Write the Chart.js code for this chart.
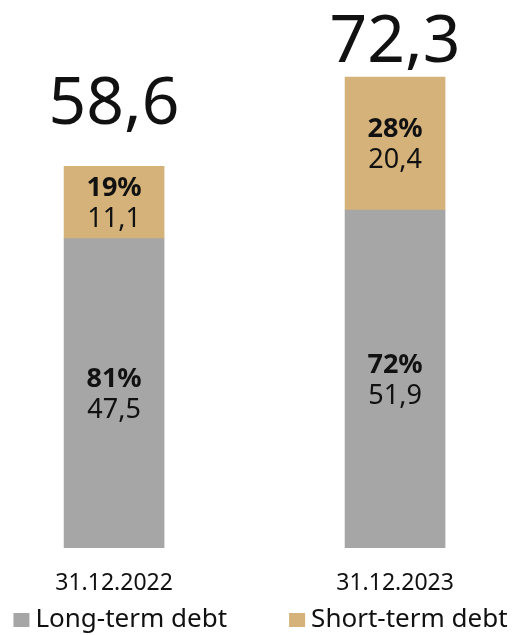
<!DOCTYPE html>
<html>
<head>
    <title>Debt structure</title>
    <script src="https://cdn.jsdelivr.net/npm/chart.js"></script>
    <style>
        html, body {
            margin: 0;
            padding: 0;
            background: #ffffff;
        }
        #wrap {
            width: 517px;
            height: 635px;
        }
    </style>
</head>
<body>
    <div id="wrap"><canvas id="debtChart"></canvas></div>

    <script>
        // Debt at year end, bn
        var dates = ['31.12.2022', '31.12.2023'];
        var longTerm = [47.5, 51.9];
        var shortTerm = [11.1, 20.4];
        var longShare = ['81%', '72%'];
        var shortShare = ['19%', '28%'];
        var totals = [58.6, 72.3];

        var FONT = '"Noto Sans", sans-serif';
        var INK = '#111111';

        function fmt(v) {
            return v.toFixed(1).replace('.', ',');
        }

        // Writes share + value inside each segment, total above each bar
        var barLabels = {
            id: 'barLabels',
            afterDatasetsDraw: function(chart) {
                var ctx = chart.ctx;
                ctx.save();
                ctx.fillStyle = INK;
                ctx.textAlign = 'center';
                ctx.textBaseline = 'alphabetic';

                var shares = [longShare, shortShare];
                chart.data.datasets.forEach(function(ds, di) {
                    var meta = chart.getDatasetMeta(di);
                    meta.data.forEach(function(bar, i) {
                        var mid = (bar.y + bar.base) / 2;
                        ctx.font = 'bold 27px ' + FONT;
                        ctx.fillText(shares[di][i], bar.x, mid - 6.5);
                        ctx.font = '27px ' + FONT;
                        ctx.fillText(fmt(ds.data[i].y), bar.x, mid + 24.5);
                    });
                });

                // totals sit above the stack, kept inside the canvas
                var top = chart.getDatasetMeta(chart.data.datasets.length - 1);
                ctx.font = '66px ' + FONT;
                top.data.forEach(function(bar, i) {
                    var y = Math.max(bar.y - 42, 62);
                    ctx.fillText(fmt(totals[i]), bar.x, y);
                });
                ctx.restore();
            }
        };

        // Square-marker legend along the bottom edge
        var bottomLegend = {
            id: 'bottomLegend',
            afterDraw: function(chart) {
                var ctx = chart.ctx;
                var box = 16, gapText = 6, gapItem = 62;
                var baseline = 627;
                ctx.save();
                ctx.font = '26px ' + FONT;
                ctx.textBaseline = 'alphabetic';
                ctx.textAlign = 'left';
                var items = chart.data.datasets.map(function(ds) {
                    return { text: ds.label, color: ds.backgroundColor, w: box + gapText + ctx.measureText(ds.label).width };
                });
                var total = items.reduce(function(s, it) { return s + it.w; }, 0) + gapItem * (items.length - 1);
                var x = (chart.width - total) / 2 + 2;
                items.forEach(function(it) {
                    ctx.fillStyle = it.color;
                    ctx.fillRect(x, baseline - 14, box, 14);
                    ctx.fillStyle = INK;
                    ctx.fillText(it.text, x + box + gapText, baseline);
                    x += it.w + gapItem;
                });
                ctx.restore();
            }
        };

        new Chart(document.getElementById('debtChart'), {
            type: 'bar',
            plugins: [barLabels, bottomLegend],
            data: {
                datasets: [
                    {
                        label: 'Long-term debt',
                        data: longTerm.map(function(v, i) { return { x: i, y: v }; }),
                        backgroundColor: '#a6a6a6',
                        borderWidth: 0,
                        barThickness: 100
                    },
                    {
                        label: 'Short-term debt',
                        data: shortTerm.map(function(v, i) { return { x: i, y: v }; }),
                        backgroundColor: '#d4b279',
                        borderWidth: 0,
                        barThickness: 100
                    }
                ]
            },
            options: {
                responsive: true,
                maintainAspectRatio: false,
                animation: false,
                layout: {
                    padding: { top: 27, left: 0, right: 0, bottom: 15.4 }
                },
                plugins: {
                    tooltip: { enabled: false },
                    legend: { display: false }
                },
                scales: {
                    x: {
                        type: 'linear',
                        stacked: true,
                        offset: false,
                        min: -0.406,
                        max: 1.434,
                        grid: { display: false, drawTicks: false },
                        border: { display: false },
                        afterBuildTicks: function(axis) {
                            axis.ticks = dates.map(function(d, i) { return { value: i }; });
                        },
                        ticks: {
                            padding: 22,
                            color: INK,
                            font: { family: FONT, size: 23 },
                            callback: function(v) { return dates[v]; }
                        }
                    },
                    y: {
                        display: false,
                        stacked: true,
                        min: 0,
                        max: 80
                    }
                }
            }
        });
    </script>
</body>
</html>
